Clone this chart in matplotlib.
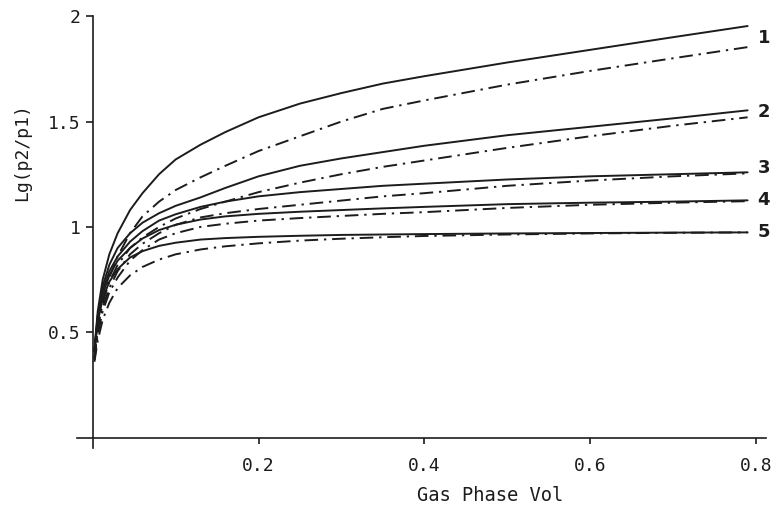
import matplotlib
matplotlib.use('Agg')
import matplotlib.pyplot as plt
import numpy as np

plt.rcParams['font.family'] = ['DejaVu Sans Mono']

# gas phase volume (x) points used for every curve
vol = [0.002, 0.006, 0.012, 0.02, 0.03, 0.045, 0.06, 0.08, 0.1, 0.13,
	0.16, 0.2, 0.25, 0.3, 0.35, 0.4, 0.5, 0.6, 0.7, 0.79]

# solid curves 1..5
solid_1 = [0.42, 0.60, 0.75, 0.87, 0.97, 1.08, 1.16, 1.25, 1.32, 1.39,
	1.45, 1.52, 1.585, 1.635, 1.68, 1.715, 1.78, 1.84, 1.90, 1.953]
solid_2 = [0.41, 0.58, 0.72, 0.82, 0.90, 0.97, 1.02, 1.065, 1.10, 1.14,
	1.185, 1.24, 1.29, 1.325, 1.355, 1.385, 1.435, 1.475, 1.515, 1.553]
solid_3 = [0.41, 0.57, 0.70, 0.79, 0.86, 0.93, 0.98, 1.03, 1.06, 1.095,
	1.12, 1.145, 1.165, 1.18, 1.195, 1.205, 1.225, 1.24, 1.25, 1.259]
solid_4 = [0.41, 0.56, 0.68, 0.77, 0.84, 0.90, 0.945, 0.985, 1.01, 1.035,
	1.05, 1.062, 1.072, 1.08, 1.088, 1.095, 1.108, 1.115, 1.12, 1.126]
solid_5 = [0.41, 0.55, 0.66, 0.74, 0.80, 0.855, 0.885, 0.91, 0.925, 0.94,
	0.947, 0.953, 0.958, 0.962, 0.964, 0.966, 0.969, 0.971, 0.973, 0.974]

# dash-dot curves 1..5
dash_1 = [0.38, 0.52, 0.65, 0.76, 0.86, 0.97, 1.05, 1.12, 1.175, 1.235,
	1.29, 1.36, 1.43, 1.50, 1.56, 1.60, 1.675, 1.74, 1.80, 1.853]
dash_2 = [0.38, 0.52, 0.64, 0.74, 0.82, 0.90, 0.95, 1.00, 1.04, 1.085,
	1.12, 1.165, 1.21, 1.25, 1.285, 1.315, 1.375, 1.43, 1.48, 1.52]
dash_3 = [0.37, 0.50, 0.62, 0.71, 0.79, 0.87, 0.92, 0.97, 1.01, 1.045,
	1.065, 1.085, 1.105, 1.125, 1.145, 1.16, 1.195, 1.22, 1.24, 1.254]
dash_4 = [0.37, 0.49, 0.60, 0.69, 0.76, 0.84, 0.89, 0.94, 0.97, 1.00,
	1.015, 1.03, 1.042, 1.052, 1.062, 1.07, 1.09, 1.105, 1.115, 1.122]
dash_5 = [0.36, 0.46, 0.56, 0.64, 0.71, 0.77, 0.81, 0.845, 0.87, 0.893,
	0.908, 0.922, 0.935, 0.944, 0.951, 0.957, 0.964, 0.969, 0.972, 0.974]

curve_labels = ['1', '2', '3', '4', '5']
label_y = [1.895, 1.544, 1.278, 1.126, 0.974]

x_ticks = [0.2, 0.4, 0.6, 0.8]
x_ticklabels = ['0.2', '0.4', '0.6', '0.8']
y_ticks = [0.5, 1, 1.5, 2]
y_ticklabels = ['0.5', '1', '1.5', '2']

ink = '#1c1c1c'

fig = plt.figure(figsize=(7.81, 5.20), dpi=100)
ax = fig.add_axes([0.0986, 0.138, 0.882, 0.831])

for s in [solid_1, solid_2, solid_3, solid_4, solid_5]:
	ax.plot(vol, s, color=ink, lw=1.4, solid_capstyle='round', solid_joinstyle='round')
for d in [dash_1, dash_2, dash_3, dash_4, dash_5]:
	ax.plot(vol, d, color=ink, lw=1.4, dashes=(7, 3, 1.2, 3))

for lab, yy in zip(curve_labels, label_y):
	ax.text(0.802, yy, lab, fontsize=13, fontweight='bold', color=ink,
		ha='left', va='center', family='DejaVu Sans', clip_on=False)

ax.set_xlim(-0.019, 0.812)
ax.set_ylim(-0.05, 2.0)
ax.spines['top'].set_visible(False)
ax.spines['right'].set_visible(False)
ax.spines['left'].set_position(('data', 0))
ax.spines['bottom'].set_position(('data', 0))
for sp in ['left', 'bottom']:
	ax.spines[sp].set_color(ink)
	ax.spines[sp].set_linewidth(1.2)

ax.set_xticks(x_ticks)
ax.set_xticklabels(x_ticklabels)
ax.set_yticks(y_ticks)
ax.set_yticklabels(y_ticklabels)
ax.tick_params(axis='x', direction='out', length=4, width=1.2, colors=ink, labelsize=13, pad=10)
ax.tick_params(axis='y', direction='out', length=5, width=1.2, colors=ink, labelsize=13, pad=4)

fig.text(0.627, 0.048, 'Gas Phase Vol', fontsize=13.5, color=ink, ha='center', va='center')
fig.text(0.028, 0.708, 'Lg(p2/p1)', fontsize=13, color=ink, ha='center', va='center', rotation=90)

fig.savefig('out.png', dpi=100, facecolor='white')
